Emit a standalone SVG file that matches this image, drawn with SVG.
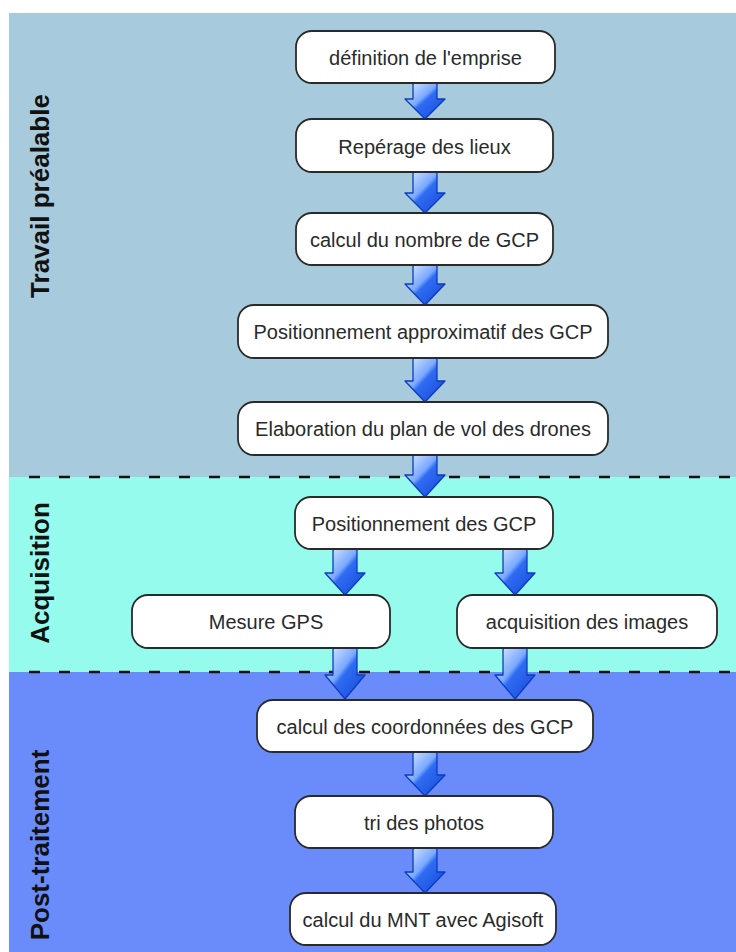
<svg xmlns="http://www.w3.org/2000/svg" width="736" height="952" viewBox="0 0 736 952">
<defs>
<linearGradient id="ag" x1="0" y1="0" x2="1" y2="1">
<stop offset="0" stop-color="#e4efff"/>
<stop offset="0.42" stop-color="#7aa9ff"/>
<stop offset="0.5" stop-color="#2f6cf2"/>
<stop offset="1" stop-color="#1546d6"/>
</linearGradient>
<style>
.box{fill:#fff;stroke:#2a2a2a;stroke-width:1.8}
.t{font-family:"Liberation Sans",Arial,sans-serif;font-size:20px;fill:#2a2a2a;text-anchor:middle}
.lab{font-family:"Liberation Sans",Arial,sans-serif;font-size:26px;font-weight:bold;fill:#111;text-anchor:middle}
.arr{fill:url(#ag);stroke:#0b3cc0;stroke-width:1.3;stroke-linejoin:round}
.sep{stroke:#111;stroke-width:2.5;stroke-dasharray:11 19}
</style>
</defs>
<rect x="0" y="0" width="736" height="952" fill="#fff"/>
<g id="bands">
<rect x="9" y="13" width="727" height="464" fill="#a7cbdc"/>
<rect x="9" y="477" width="727" height="195" fill="#95fced"/>
<rect x="9" y="672" width="727" height="280" fill="#6a8cfb"/>
<line class="sep" x1="29" y1="477" x2="736" y2="477"/>
<line class="sep" x1="29" y1="672" x2="736" y2="672"/>
</g>
<g id="lane-labels">
<text class="lab" transform="translate(49,196) rotate(-90)">Travail préalable</text>
<text class="lab" transform="translate(49,573) rotate(-90)">Acquisition</text>
<text class="lab" transform="translate(49,845) rotate(-90)">Post-traitement</text>
</g>
<g id="connectors">
<path class="arr" d="M413,85 Q413,83 415,83 L435,83 Q437,83 437,85 L437,99 L445,99 L425,119 L405,99 L413,99 Z"/>
<path class="arr" d="M413,174 Q413,172 415,172 L435,172 Q437,172 437,174 L437,193 L445,193 L425,213 L405,193 L413,193 Z"/>
<path class="arr" d="M413,267 Q413,265 415,265 L435,265 Q437,265 437,267 L437,284 L445,284 L425,305 L405,284 L413,284 Z"/>
<path class="arr" d="M413,360 Q413,358 415,358 L435,358 Q437,358 437,360 L437,381 L445,381 L425,402 L405,381 L413,381 Z"/>
<path class="arr" d="M413,457 Q413,455 415,455 L435,455 Q437,455 437,457 L437,475 L445,475 L425,497 L405,475 L413,475 Z"/>
<path class="arr" d="M333,551 Q333,549 335,549 L355,549 Q357,549 357,551 L357,573 L365,573 L345,595 L325,573 L333,573 Z"/>
<path class="arr" d="M503,551 Q503,549 505,549 L525,549 Q527,549 527,551 L527,573 L535,573 L515,595 L495,573 L503,573 Z"/>
<path class="arr" d="M333,650 Q333,648 335,648 L355,648 Q357,648 357,650 L357,675 L365,675 L345,699 L325,675 L333,675 Z"/>
<path class="arr" d="M503,650 Q503,648 505,648 L525,648 Q527,648 527,650 L527,675 L535,675 L515,699 L495,675 L503,675 Z"/>
<path class="arr" d="M413,754 Q413,752 415,752 L435,752 Q437,752 437,754 L437,775 L445,775 L425,796 L405,775 L413,775 Z"/>
<path class="arr" d="M413,850 Q413,848 415,848 L435,848 Q437,848 437,850 L437,872 L445,872 L425,893 L405,872 L413,872 Z"/>
</g>
<g id="n1"><rect class="box" x="296" y="31" width="259" height="52" rx="16"/><text class="t" x="425.5" y="65">définition de l'emprise</text></g>
<g id="n2"><rect class="box" x="296" y="119" width="257" height="53" rx="16"/><text class="t" x="424.5" y="154">Repérage des lieux</text></g>
<g id="n3"><rect class="box" x="296" y="213" width="257" height="52" rx="16"/><text class="t" x="424.5" y="247">calcul du nombre de GCP</text></g>
<g id="n4"><rect class="box" x="238" y="305" width="370" height="53" rx="16"/><text class="t" x="423" y="339">Positionnement approximatif des GCP</text></g>
<g id="n5"><rect class="box" x="238" y="402" width="370" height="53" rx="16"/><text class="t" x="423" y="436">Elaboration du plan de vol des drones</text></g>
<g id="n6"><rect class="box" x="295" y="497" width="258" height="52" rx="16"/><text class="t" x="424" y="531">Positionnement des GCP</text></g>
<g id="n7"><rect class="box" x="132" y="595" width="258" height="53" rx="16"/><text class="t" x="266" y="629">Mesure GPS</text></g>
<g id="n8"><rect class="box" x="457" y="595" width="260" height="53" rx="16"/><text class="t" x="587" y="629">acquisition des images</text></g>
<g id="n9"><rect class="box" x="257" y="700" width="336" height="52" rx="16"/><text class="t" x="425" y="734">calcul des coordonnées des GCP</text></g>
<g id="n10"><rect class="box" x="295" y="796" width="258" height="52" rx="16"/><text class="t" x="424" y="830">tri des photos</text></g>
<g id="n11"><rect class="box" x="290" y="893" width="266" height="52" rx="16"/><text class="t" x="423" y="927">calcul du MNT avec Agisoft</text></g>
</svg>
